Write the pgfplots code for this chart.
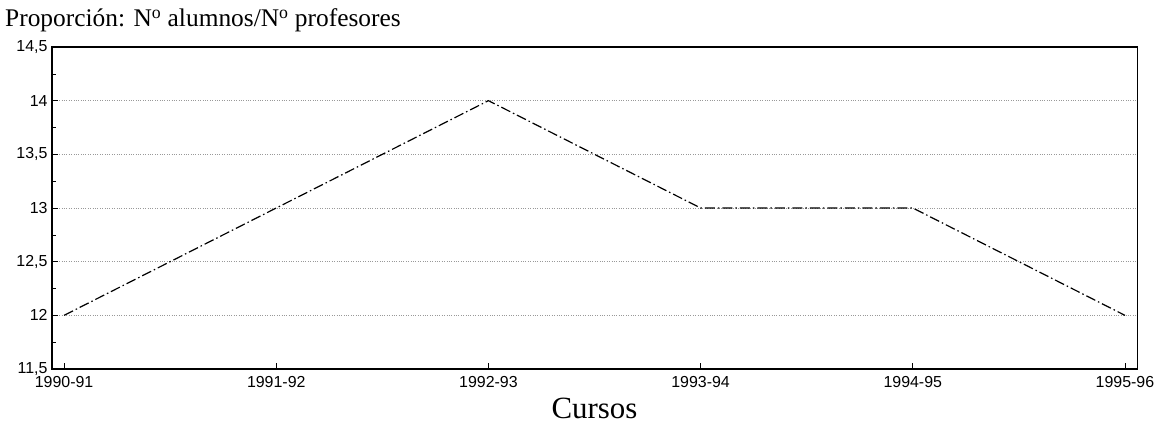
\documentclass[border=0pt]{standalone}
\usepackage{fontspec}
\setmainfont{Liberation Serif}
\newfontfamily\tickfont{Liberation Sans}
\usepackage{pgfplots}
\pgfplotsset{compat=1.18}
\begin{document}
\begin{tikzpicture}
\begin{axis}[
  scale only axis,
  width=1085bp, height=322bp,
  xmin=-0.057, xmax=5.057,
  ymin=11.5, ymax=14.5,
  xtick={0,1,2,3,4,5},
  xticklabels={1990-91,1991-92,1992-93,1993-94,1994-95,1995-96},
  ytick={11.5,12,12.5,13,13.5,14,14.5},
  minor y tick num=1,
  tick align=inside,
  tick pos=left,
  major tick length=6bp,
  minor tick length=4bp,
  axis line style={line width=1.1bp},
  every tick/.style={black, line width=0.6bp},
  ymajorgrids,
  grid style={dotted, line width=0.5bp, gray!80},
  /pgf/number format/assume math mode=true,
  /pgf/number format/use comma,
  ticklabel style={font=\tickfont\fontsize{16}{16}\selectfont},
  yticklabel style={xshift=-1bp, inner ysep=0pt},
  xticklabel style={yshift=-7bp, inner ysep=0pt},
  xlabel={Cursos},
  xlabel style={at={(axis description cs:0.5,0)}, anchor=base, yshift=-49bp, font=\fontsize{31}{31}\selectfont},
  clip=false,
]
\addplot[black, line width=1.2bp, dash pattern=on 10bp off 3bp on 1.5bp off 3bp] coordinates {
  (0,12) (1,13) (2,14) (3,13) (4,13) (5,12)
};
\end{axis}
\node[anchor=base west, font=\fontsize{25.5}{25.5}\selectfont, inner sep=0pt] at (-47bp,342bp) {Proporción: N\textsuperscript{o} alumnos/N\textsuperscript{o} profesores};
\path[use as bounding box] (-52bp,-55bp) rectangle (1107bp,369bp);
\end{tikzpicture}
\end{document}
